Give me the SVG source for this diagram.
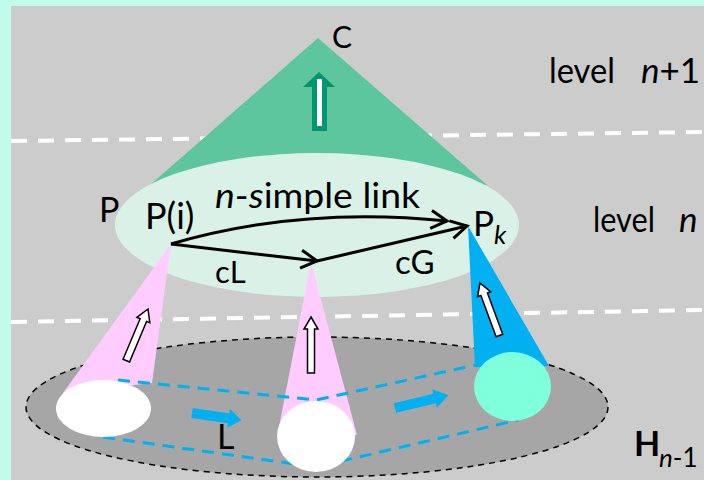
<svg xmlns="http://www.w3.org/2000/svg" width="704" height="480" viewBox="0 0 704 480">
<style>
.t{font-family:Lato,"Liberation Sans",sans-serif;fill:#000}
.it{font-style:italic}
.wd{fill:none;stroke:#fff;stroke-width:4;stroke-dasharray:16 11}
.bd{fill:none;stroke:#00B0F0;stroke-width:3;stroke-dasharray:12 8}
.blk{fill:none;stroke:#000;stroke-width:3}
</style>
<defs>
<marker id="ah" viewBox="0 0 18 20" refX="17" refY="10" markerWidth="18" markerHeight="20" markerUnits="userSpaceOnUse" orient="auto" overflow="visible">
<path d="M1,1 L17,10 L1,19" fill="none" stroke="#000" stroke-width="3" stroke-linejoin="miter"/>
</marker>
<path id="ua" d="M0,0 L7,12 L3.5,12 L3.5,56 L-3.5,56 L-3.5,12 L-7,12 Z" fill="#fff" stroke="#000" stroke-width="1.5" stroke-linejoin="miter"/>
<path id="ba" d="M0,-5 L37,-5 L37,-9.5 L50,0 L37,9.5 L37,5 L0,5 Z" fill="#00B0F0"/>
</defs>
<rect x="0" y="0" width="704" height="480" fill="#BFFCEB"/>
<rect x="11" y="6" width="693" height="474" fill="#CCCCCC"/>
<line class="wd" x1="11" y1="141" x2="704" y2="132"/>
<line class="wd" x1="11" y1="322" x2="704" y2="310"/>

<g id="node-C">
<polygon points="318,38 150,185 487,185" fill="#5EC69D"/>
<polygon points="319,72 335,87 327,87 327,131 312,131 312,87 303,87" fill="#009670"/>
<rect x="317" y="79" width="5" height="47" fill="#fff"/>
<text class="t" x="332" y="48" font-size="30">C</text>
</g>

<g id="node-P">
<ellipse cx="317" cy="225" rx="202" ry="72" fill="#DAF1E7"/>
<text class="t" x="99" y="222" font-size="34">P</text>
</g>

<g id="node-H">
<ellipse cx="317" cy="407" rx="291" ry="70" fill="#A6A6A6" stroke="#000" stroke-width="1.5" stroke-dasharray="6 5"/>
<text class="t" x="634" y="456" font-size="34" font-weight="bold">H<tspan class="it" font-weight="normal" font-size="26" x="659" y="467">n</tspan><tspan font-weight="normal" font-size="26" y="467">-1</tspan></text>
</g>

<g id="cone-1">
<polygon points="171,244 63,393 152,383" fill="#FFCCFF"/>
<use href="#ua" transform="translate(148,309) rotate(22.8)"/>
</g>
<g id="cone-2">
<polygon points="311,262 277,437 357,435" fill="#FFCCFF"/>
<use href="#ua" transform="translate(311,317) rotate(0)"/>
</g>
<g id="cone-3">
<polygon points="468,226 475,367 549,366" fill="#00B0F0"/>
<use href="#ua" transform="translate(480,283) rotate(-20.3)"/>
</g>

<g id="connectors">
<polyline class="bd" points="118,380 316,400 485,363"/>
<polyline class="bd" points="103,437 316,467 518,420"/>
<path class="blk" d="M171,244 Q300,206 447,221" marker-end="url(#ah)"/>
<path class="blk" d="M171,244 L317,261" marker-end="url(#ah)"/>
<path class="blk" d="M317,261 L467,226" marker-end="url(#ah)"/>
<use href="#ba" transform="translate(192,413) rotate(8.3)"/>
<use href="#ba" transform="translate(395,408) rotate(-13.5) scale(1.1,1)"/>
</g>

<g id="node-1"><ellipse cx="103.5" cy="408.5" rx="47.5" ry="28.5" fill="#fff"/></g>
<g id="node-2"><ellipse cx="316" cy="436.5" rx="39" ry="35.5" fill="#fff"/></g>
<g id="node-3"><ellipse cx="512.5" cy="386.5" rx="38.5" ry="34.5" fill="#80FFDD"/></g>

<g id="labels">
<text class="t" x="549" y="83" font-size="35"><tspan textLength="66" lengthAdjust="spacingAndGlyphs">level</tspan><tspan class="it" x="641">n</tspan><tspan>+1</tspan></text>
<text class="t" x="593" y="232" font-size="35"><tspan textLength="62" lengthAdjust="spacingAndGlyphs">level</tspan><tspan class="it" x="679">n</tspan></text>
<text class="t" x="145" y="229" font-size="36">P(i)</text>
<text class="t" x="215" y="208" font-size="35" textLength="205" lengthAdjust="spacingAndGlyphs"><tspan class="it">n</tspan>-<tspan class="it">s</tspan>imple link</text>
<text class="t" x="473" y="236" font-size="35">P<tspan class="it" font-size="26" y="244">k</tspan></text>
<text class="t" x="215" y="283" font-size="31">cL</text>
<text class="t" x="395" y="274" font-size="33">cG</text>
<text class="t" x="217" y="449" font-size="34">L</text>
</g>
</svg>
